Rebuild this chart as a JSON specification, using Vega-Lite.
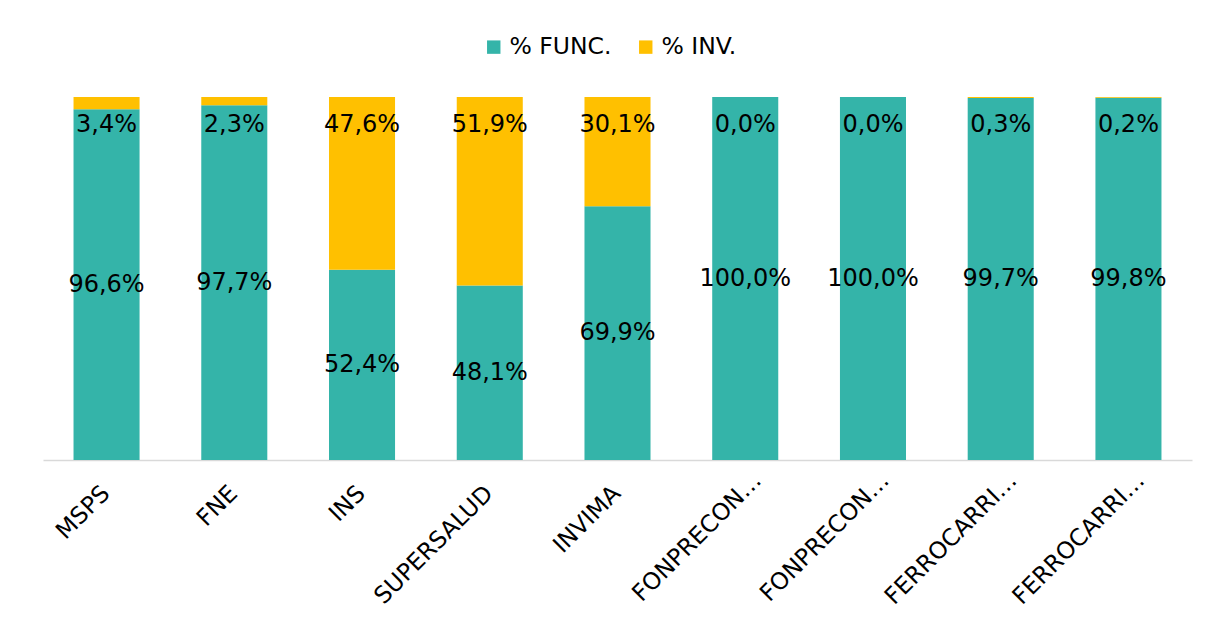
{
  "$schema": "https://vega.github.io/schema/vega-lite/v6.json",
  "autosize": {"type": "none"},
  "width": 1149,
  "height": 363,
  "padding": {"left": 43, "top": 97, "right": 17, "bottom": 168},
  "background": "white",
  "config": {
    "view": {"stroke": null},
    "font": "DejaVu Sans",
    "locale": {"number": {"decimal": ",", "thousands": ".", "grouping": [3], "currency": ["$", ""]}}
  },
  "data": {
    "values": [
      {"org": "MSPS", "serie": "% FUNC.", "valor": 0.966},
      {"org": "MSPS", "serie": "% INV.", "valor": 0.034},
      {"org": "FNE", "serie": "% FUNC.", "valor": 0.977},
      {"org": "FNE", "serie": "% INV.", "valor": 0.023},
      {"org": "INS", "serie": "% FUNC.", "valor": 0.524},
      {"org": "INS", "serie": "% INV.", "valor": 0.476},
      {"org": "SUPERSALUD", "serie": "% FUNC.", "valor": 0.481},
      {"org": "SUPERSALUD", "serie": "% INV.", "valor": 0.519},
      {"org": "INVIMA", "serie": "% FUNC.", "valor": 0.699},
      {"org": "INVIMA", "serie": "% INV.", "valor": 0.301},
      {"org": "FONPRECON…", "serie": "% FUNC.", "valor": 1.0},
      {"org": "FONPRECON…", "serie": "% INV.", "valor": 0.0},
      {"org": "FONPRECON… ", "serie": "% FUNC.", "valor": 1.0},
      {"org": "FONPRECON… ", "serie": "% INV.", "valor": 0.0},
      {"org": "FERROCARRI…", "serie": "% FUNC.", "valor": 0.997},
      {"org": "FERROCARRI…", "serie": "% INV.", "valor": 0.003},
      {"org": "FERROCARRI… ", "serie": "% FUNC.", "valor": 0.998},
      {"org": "FERROCARRI… ", "serie": "% INV.", "valor": 0.002}
    ]
  },
  "encoding": {
    "x": {
      "field": "org",
      "type": "nominal",
      "sort": null,
      "scale": {"paddingInner": 0.483, "paddingOuter": 0.239},
      "axis": {
        "title": null,
        "labelAngle": -45,
        "labelFontSize": 23.5,
        "labelColor": "#000000",
        "labelPadding": {"condition": {"test": "indexof(datum.value, '…') >= 0", "value": 8}, "value": 21},
        "labelOffset": {"condition": {"test": "indexof(datum.value, '…') >= 0", "value": 4}, "value": -9},
        "labelExpr": "trim(datum.label)",
        "labelLimit": 400,
        "ticks": false,
        "domainColor": "#d9d9d9",
        "domainWidth": 1.5
      }
    }
  },
  "layer": [
    {
      "mark": {"type": "bar"},
      "encoding": {
        "y": {"field": "valor", "type": "quantitative", "stack": "zero", "scale": {"domain": [0, 1]}, "axis": null},
        "order": {"field": "serie", "sort": "ascending"},
        "color": {
          "field": "serie",
          "type": "nominal",
          "scale": {"domain": ["% FUNC.", "% INV."], "range": ["#34b4a9", "#ffc000"]},
          "legend": {
            "title": null,
            "orient": "none",
            "direction": "horizontal",
            "legendX": 439,
            "legendY": -62,
            "symbolType": "square",
            "symbolSize": 180,
            "symbolStrokeWidth": 0,
            "labelFontSize": 23.5,
            "labelColor": "#000000",
            "labelOffset": 4,
            "columnPadding": 22
          }
        }
      }
    },
    {
      "transform": [{"filter": "datum.serie === '% INV.'"}],
      "mark": {"type": "text", "fontSize": 24, "color": "#000000", "dy": 28, "baseline": "middle"},
      "encoding": {
        "y": {"datum": 1, "type": "quantitative", "scale": {"domain": [0, 1]}, "axis": null},
        "text": {"field": "valor", "type": "quantitative", "format": ".1%"}
      }
    },
    {
      "transform": [{"filter": "datum.serie === '% FUNC.'"}],
      "mark": {"type": "text", "fontSize": 24, "color": "#000000", "baseline": "middle"},
      "encoding": {
        "y": {"field": "valor", "type": "quantitative", "scale": {"domain": [0, 2]}, "axis": null},
        "text": {"field": "valor", "type": "quantitative", "format": ".1%"}
      }
    }
  ],
  "resolve": {"scale": {"y": "independent"}}
}
